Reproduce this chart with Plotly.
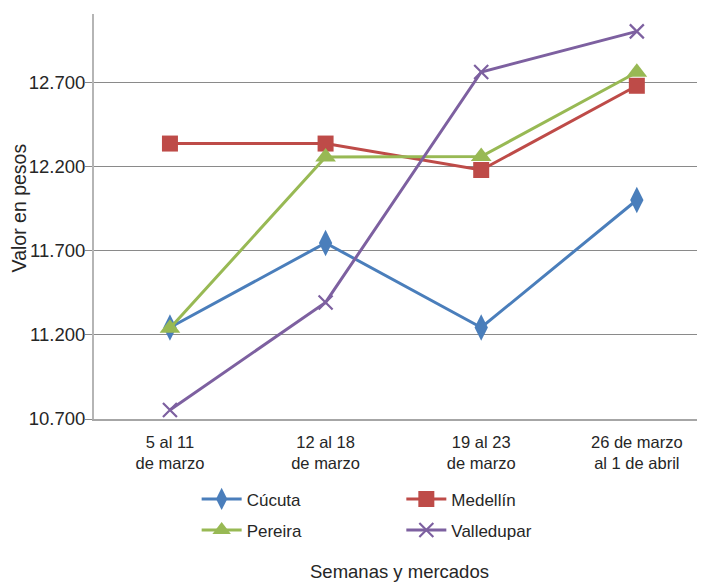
import plotly.graph_objects as go

categories = ["5 al 11<br>de marzo", "12 al 18<br>de marzo", "19 al 23<br>de marzo", "26 de marzo<br>al 1 de abril"]
cucuta = [11243, 11745, 11243, 12000]
medellin = [12335, 12335, 12178, 12678]
pereira = [11238, 12255, 12258, 12758]
valledupar = [10753, 11392, 12760, 13001]
y_ticks = [10700, 11200, 11700, 12200, 12700]
y_tick_labels = ["10.700", "11.200", "11.700", "12.200", "12.700"]

FONT = "Liberation Sans, Arial, sans-serif"
TXT = "#262626"

series = [
    ("Cúcuta", cucuta, "#4A7EBB", "diamond-tall", 19, "legend"),
    ("Medellín", medellin, "#BE4B48", "square", 16, "legend2"),
    ("Pereira", pereira, "#98B954", "triangle-up", 18, "legend"),
    ("Valledupar", valledupar, "#7D60A0", "x-thin", 14, "legend2"),
]

x_idx = list(range(len(categories)))
fig = go.Figure()
for name, vals, col, sym, size, leg in series:
    fig.add_trace(go.Scatter(
        x=x_idx, y=vals, name=name, mode="lines+markers",
        line=dict(color=col, width=3),
        marker=dict(symbol=sym, size=size, color=col,
                    line=dict(color=col, width=2.2 if sym == "x-thin" else 0)),
        legend=leg, legendgroup=name, cliponaxis=False,
    ))

# page body adds an 8px offset, so the figure is sized 8px smaller
fig.update_layout(
    width=697, height=574,
    margin=dict(l=86, r=0, t=6, b=163),
    plot_bgcolor="white", paper_bgcolor="white",
    font=dict(family=FONT, color=TXT, size=17),
    legend=dict(x=0.168, y=-0.154, xanchor="left", yanchor="top",
                orientation="v", tracegroupgap=6, itemwidth=40,
                font=dict(family=FONT, size=17, color=TXT), bgcolor="rgba(0,0,0,0)"),
    legend2=dict(x=0.503, y=-0.154, xanchor="left", yanchor="top",
                 orientation="v", tracegroupgap=6, itemwidth=40,
                 font=dict(family=FONT, size=17, color=TXT), bgcolor="rgba(0,0,0,0)"),
    showlegend=True,
    annotations=[dict(text="Valor en pesos", textangle=-90, xref="paper", yref="paper",
                      x=-0.1227, y=0.52, xanchor="center", yanchor="middle", showarrow=False,
                      font=dict(family=FONT, size=19.5, color=TXT))],
)
fig.update_xaxes(
    range=[-0.488, 3.438], tickvals=x_idx, ticktext=categories,
    showgrid=False, zeroline=False, showline=True, linecolor="#a6a6a6", linewidth=2,
    ticks="", ticklabelstandoff=7,
    tickfont=dict(family=FONT, size=16.5, color=TXT),
    title=dict(text="Semanas y mercados", font=dict(family=FONT, size=18.5, color=TXT), standoff=96),
    automargin=False,
)
fig.update_yaxes(
    range=[10700, 13104], tickvals=y_ticks, ticktext=y_tick_labels,
    showgrid=True, gridcolor="#8a8a8a", gridwidth=1,
    zeroline=False, showline=True, linecolor="#b5b5b5", linewidth=2,
    ticks="outside", ticklen=7, tickcolor="#8a8a8a", tickwidth=1, ticklabelstandoff=-4,
    tickfont=dict(family=FONT, size=18.5, color=TXT),
    automargin=False,
)
fig.write_html("out.html")
